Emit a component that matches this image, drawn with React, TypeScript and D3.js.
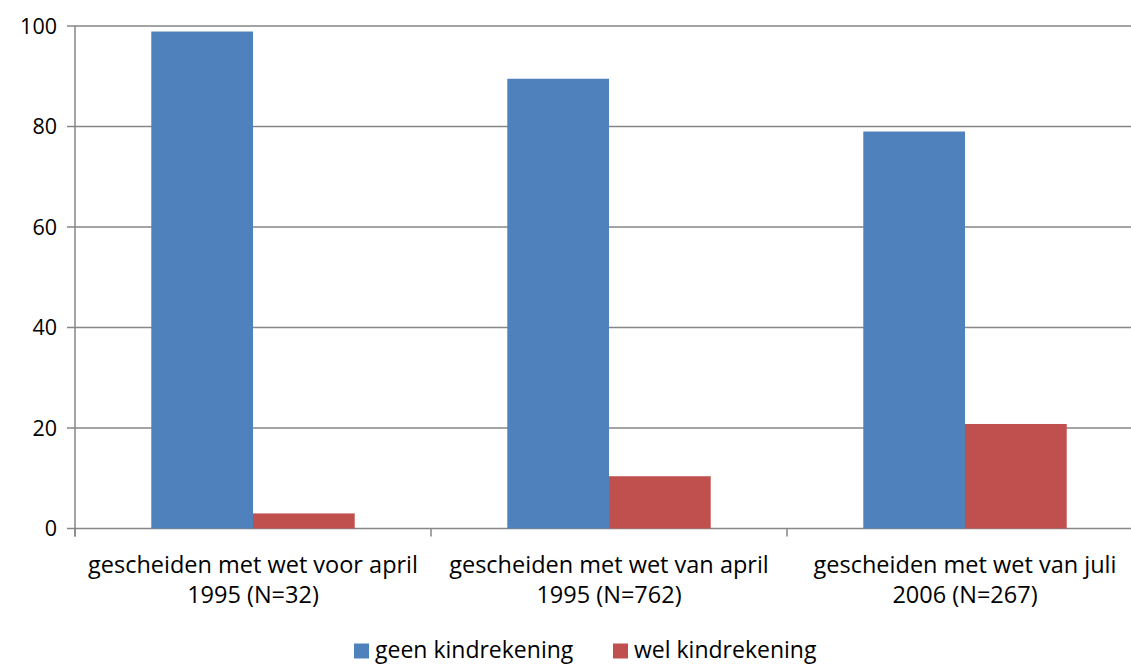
import React from "react";
import * as d3 from "d3";

const categories: string[][] = [
  ["gescheiden met wet voor april", "1995 (N=32)"],
  ["gescheiden met wet van april", "1995 (N=762)"],
  ["gescheiden met wet van juli", "2006 (N=267)"],
];
const seriesNames = ["geen kindrekening", "wel kindrekening"];
const geen = [98.9, 89.5, 79.0];
const wel = [3.0, 10.4, 20.8];
const yTicks = [0, 20, 40, 60, 80, 100];
const colors = ["#4F81BD", "#C0504D"];

const W = 1131;
const H = 664;
const left = 75;
const right = 1143;
const top = 26;
const bottom = 528.5;
const font = "'Open Sans', sans-serif";

export default function App() {
  const x = d3.scaleBand<number>().domain([0, 1, 2]).range([left, right]);
  const y = d3.scaleLinear().domain([0, 100]).range([bottom, top]);
  const bw = x.bandwidth();
  const barW = bw / 3.5;
  const inner = d3.scaleBand<number>().domain([0, 1]).range([-barW, barW]);
  const values = [geen, wel];
  const gray = "#868686";

  return (
    <svg width={W} height={H} style={{ position: "absolute", left: 0, top: 0, background: "#fff" }}>
      {yTicks.map((t) => (
        <g key={t}>
          <line x1={left - 8} x2={right} y1={y(t)} y2={y(t)} stroke={gray} strokeWidth={1.5} />
          <text x={57} y={y(t) + 7.5} textAnchor="end" fontFamily={font} fontSize={21.5} fill="#000">
            {t}
          </text>
        </g>
      ))}
      <line x1={left} x2={left} y1={top} y2={bottom + 8} stroke={gray} strokeWidth={1.5} />
      {[0, 1, 2, 3].map((i) => {
        const xx = i < 3 ? x(i)! : right;
        return <line key={i} x1={xx} x2={xx} y1={bottom} y2={bottom + 8} stroke={gray} strokeWidth={1.5} />;
      })}
      {values.map((vals, s) =>
        vals.map((v, i) => {
          const cx = x(i)! + bw / 2;
          return (
            <rect
              key={`${s}-${i}`}
              x={cx + inner(s)!}
              y={y(v)}
              width={barW}
              height={y(0) - y(v)}
              fill={colors[s]}
            />
          );
        })
      )}
      {categories.map((lines, i) => (
        <text key={i} textAnchor="middle" fontFamily={font} fontSize={23.5} fill="#000">
          {lines.map((l, j) => (
            <tspan key={j} x={x(i)! + bw / 2} y={573 + j * 29.5}>
              {l}
            </tspan>
          ))}
        </text>
      ))}
      {seriesNames.map((n, s) => {
        const lx = s === 0 ? 354 : 613;
        return (
          <g key={n}>
            <rect x={lx} y={643.5} width={15} height={15} fill={colors[s]} />
            <text x={lx + 21} y={657.5} fontFamily={font} fontSize={23} fill="#000">
              {n}
            </text>
          </g>
        );
      })}
    </svg>
  );
}
